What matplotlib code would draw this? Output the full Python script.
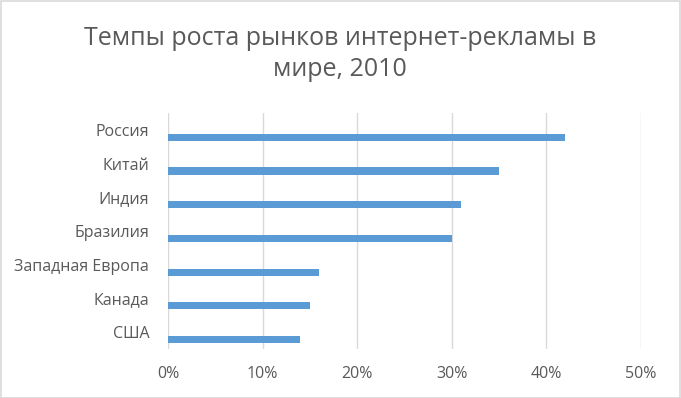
import matplotlib.pyplot as plt
import matplotlib.ticker as ticker
import numpy as np
from matplotlib.patches import Rectangle

# Chart data (top to bottom as shown)
countries = ['Россия', 'Китай', 'Индия', 'Бразилия', 'Западная Европа', 'Канада', 'США']
growth = [42, 35, 31, 30, 16, 15, 14]
x_ticks = [0, 10, 20, 30, 40, 50]

plt.rcParams['font.family'] = ['Open Sans', 'DejaVu Sans']

fig = plt.figure(figsize=(6.81, 3.98), dpi=100)
W, H = 681, 398
ax = fig.add_axes([168 / W, 1 - 349 / H, (641 - 168) / W, (349 - 113) / H])

pos = np.arange(len(countries))
# bars sit in the lower half of each band (Excel clustered look)
ax.barh(pos + 0.22, growth, height=0.21, color='#5b9bd5', zorder=3)

ax.set_ylim(len(countries) - 0.5, -0.5)
ax.set_xlim(0, 50)
ax.set_xticks(x_ticks)
ax.xaxis.set_major_formatter(ticker.FuncFormatter(lambda v, p: '{:d}%'.format(int(v))))
ax.set_yticks(pos)
ax.set_yticklabels(countries)

ax.grid(axis='x', color='#d9d9d9', linewidth=1.0, zorder=0)
for side in ax.spines.values():
    side.set_visible(False)
ax.tick_params(axis='both', length=0, labelsize=11.5, labelcolor='#595959')
ax.tick_params(axis='y', pad=13.5)
ax.tick_params(axis='x', pad=12)

fig.text(340 / W, 1 - 54 / H, 'Темпы роста рынков интернет-рекламы в\nмире, 2010',
         ha='center', va='center', fontsize=18, color='#595959',
         linespacing=1.3)

fig.patches.append(Rectangle((0.5 / W, 0.5 / H), 1 - 1.5 / W, 1 - 1.5 / H,
                             transform=fig.transFigure, fill=False,
                             edgecolor='#d9d9d9', linewidth=1.2))

fig.savefig('out.png', dpi=100)
